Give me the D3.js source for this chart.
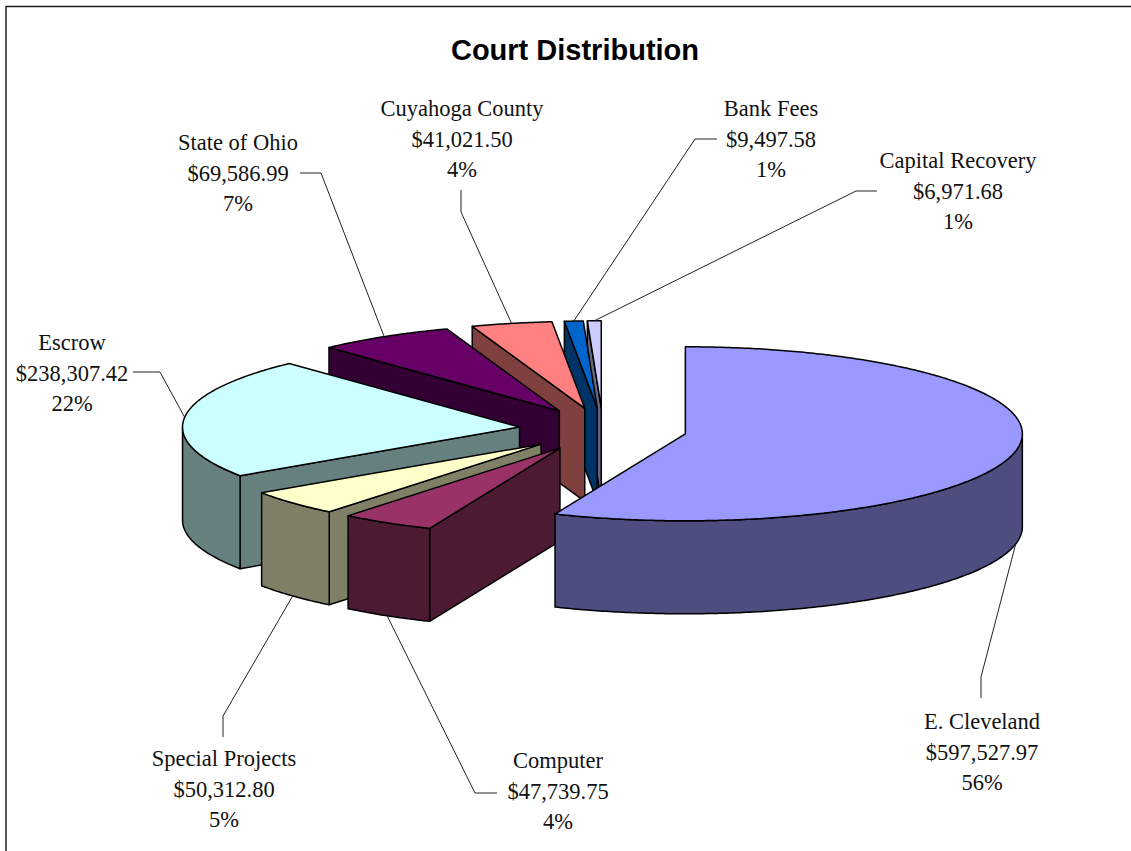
<!DOCTYPE html>
<html>
<head>
<meta charset="utf-8">
<script src="https://cdn.jsdelivr.net/npm/d3@7"></script>
<style>
  html, body { margin: 0; padding: 0; background: #fff; overflow: hidden; }
</style>
</head>
<body>
<div id="chart"></div>
<script>
var categories = ["E. Cleveland", "Computer", "Special Projects", "Escrow", "State of Ohio", "Cuyahoga County", "Bank Fees", "Capital Recovery"];
var amounts = [597527.97, 47739.75, 50312.80, 238307.42, 69586.99, 41021.50, 9497.58, 6971.68];
var percentLabels = ["56%", "4%", "5%", "22%", "7%", "4%", "1%", "1%"];
var title = "Court Distribution";

// Styling and label layout are kept apart from the values
var topColors = ["#9999FF", "#993366", "#FFFFCC", "#CCFFFF", "#660066", "#FF8080", "#0066CC", "#CCCCFF"];
var labelCenters = [982, 558, 224, 72, 238, 462, 771, 958];
var labelBaselines = [729, 768, 766, 350, 150, 116, 116, 168];
// Leader elbows: where the line leaves the label, and where it bends
var leaderStarts = [[981, 698], [497, 793], [223, 737], [133, 372], [300, 173], [461, 190], [717, 139], [877, 191]];
var leaderBends = [[981, 677], [475, 793], [223, 716], [160, 372], [321, 173], [461, 212], [695, 139], [856, 191]];

var width = 1131;
var height = 851;

// The fake 3D pie: a flattened circle, pushed down by depth
var cx = 603;
var cy = 429.5;
var radius = 337;
var tilt = 87 / 337;
var depth = 93;
var explode = 84;
var lineHeight = 30.7;

var svg = d3.select("#chart")
    .append("svg")
    .attr("width", width)
    .attr("height", height)
    .style("display", "block");

// Chart frame, right and bottom edges fall outside the picture
svg.append("rect")
    .attr("x", 6)
    .attr("y", 6.5)
    .attr("width", width + 20)
    .attr("height", height + 20)
    .attr("fill", "#fff")
    .attr("stroke", "#111")
    .attr("stroke-width", 1.4);

svg.append("text")
    .attr("x", 575)
    .attr("y", 60)
    .attr("text-anchor", "middle")
    .attr("font-family", "'Liberation Sans', Arial, sans-serif")
    .attr("font-weight", "bold")
    .attr("font-size", 29)
    .attr("fill", "#000")
    .text(title);

var arcs = d3.pie()
    .sort(null)
    .startAngle(0)
    .endAngle(2 * Math.PI)(amounts);

function mid(d) {
    return (d.startAngle + d.endAngle) / 2;
}

// Where a slice's apex sits once it is pulled out along its middle angle
function apex(d) {
    return [cx + explode * Math.sin(mid(d)), cy - explode * Math.cos(mid(d)) * tilt];
}

function rim(d, angle, drop) {
    var a = apex(d);
    return [a[0] + radius * Math.sin(angle), a[1] - radius * Math.cos(angle) * tilt + (drop || 0)];
}

function sweep(d, from, to, drop) {
    var steps = Math.max(2, Math.ceil((to - from) / 0.01));
    return d3.range(steps + 1).map(function (i) {
        return rim(d, from + (to - from) * i / steps, drop);
    });
}

var closedLine = function (points) {
    return d3.line()(points) + "Z";
};

var slices = svg.append("g")
    .attr("stroke", "#000")
    .attr("stroke-width", 1.5)
    .attr("stroke-linejoin", "round")
    .selectAll("g")
    .data(arcs.slice().reverse())   // back slices first, E. Cleveland last
    .join("g");

slices.each(function (d) {
    var g = d3.select(this);
    var top = topColors[d.index];
    var side = d3.interpolateRgb(top, "#000")(0.5);
    var a = apex(d);

    // The start wall only faces the viewer on the left half
    if (Math.sin(d.startAngle) < -1e-6) {
        var p = rim(d, d.startAngle);
        g.append("path")
            .attr("fill", side)
            .attr("d", closedLine([a, p, [p[0], p[1] + depth], [a[0], a[1] + depth]]));
    }

    // Outer wall, front half of the ellipse only
    var from = Math.max(d.startAngle, Math.PI / 2);
    var to = Math.min(d.endAngle, 3 * Math.PI / 2);
    if (to > from) {
        g.append("path")
            .attr("fill", side)
            .attr("d", closedLine(sweep(d, from, to, 0).concat(sweep(d, from, to, depth).reverse())));
    }

    g.append("path")
        .attr("fill", top)
        .attr("d", closedLine([a].concat(sweep(d, d.startAngle, d.endAngle, 0))));
});

// Leader lines end on the middle of each slice's rim
var leaders = svg.append("g")
    .attr("fill", "none")
    .attr("stroke", "#222")
    .attr("stroke-width", 1)
    .selectAll("path")
    .data(arcs)
    .join("path")
    .attr("d", function (d, i) {
        var m = mid(d);
        var front = m > Math.PI / 2 && m < 3 * Math.PI / 2;
        return d3.line()([leaderStarts[i], leaderBends[i], rim(d, m, front ? depth : 0)]);
    });

var labels = svg.append("g")
    .attr("font-family", "'Liberation Serif', 'Times New Roman', serif")
    .attr("font-size", 22.5)
    .attr("fill", "#111")
    .attr("text-anchor", "middle")
    .selectAll("text")
    .data(arcs)
    .join("text")
    .attr("y", function (d, i) { return labelBaselines[i]; });

var money = d3.format("$,.2f");
labels.each(function (d, i) {
    var rows = [categories[i], money(amounts[i]), percentLabels[i]];
    d3.select(this).selectAll("tspan")
        .data(rows)
        .join("tspan")
        .attr("x", labelCenters[i])
        .attr("y", function (r, k) { return labelBaselines[i] + k * lineHeight; })
        .text(function (r) { return r; });
});
</script>
</body>
</html>
